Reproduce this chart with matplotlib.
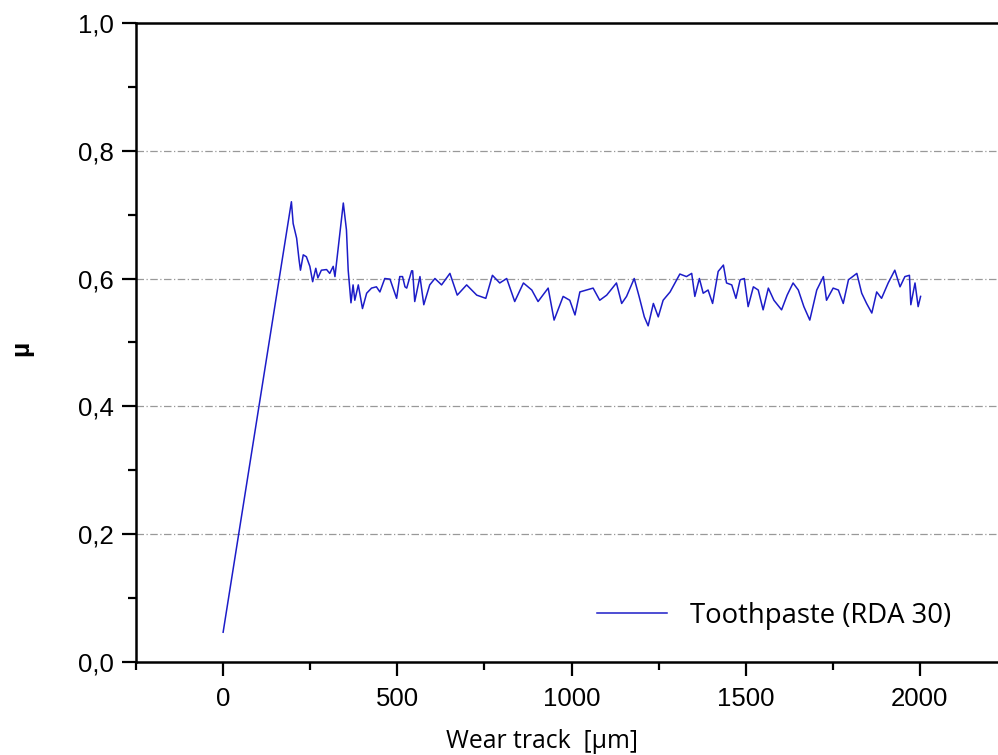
import matplotlib
matplotlib.use("Agg")
import matplotlib.pyplot as plt
from matplotlib.ticker import MultipleLocator, FuncFormatter

# values
wear_track = [
    0, 148, 196, 201, 211, 218, 222, 230, 239, 249, 257, 266, 272, 282, 297,
    306, 316, 321, 345, 354, 359, 367, 373, 378, 388, 400, 412, 426, 440, 450,
    464, 479, 498, 507, 515, 522, 527, 541, 544, 550, 565, 576, 593, 608, 627,
    651, 672, 699, 728, 754, 773, 794, 814, 837, 862, 886, 904, 933, 950, 976,
    995, 1010, 1024, 1043, 1062, 1081, 1101, 1129, 1144, 1158, 1180, 1194, 1209,
    1220, 1235, 1249, 1263, 1283, 1297, 1311, 1330, 1345, 1354, 1367, 1378, 1392,
    1405, 1421, 1436, 1445, 1460, 1472, 1484, 1496, 1507, 1522, 1536, 1550, 1565,
    1581, 1603, 1619, 1636, 1651, 1667, 1684, 1704, 1723, 1732, 1751, 1766, 1780,
    1795, 1819, 1833, 1847, 1862, 1876, 1890, 1909, 1928, 1943, 1957, 1970, 1974,
    1986, 1995, 2002,
]
mu = [
    0.047, 0.555, 0.720, 0.686, 0.663, 0.629, 0.613, 0.637, 0.634, 0.619, 0.595,
    0.616, 0.601, 0.613, 0.614, 0.608, 0.619, 0.603, 0.718, 0.676, 0.613, 0.562,
    0.590, 0.566, 0.590, 0.553, 0.577, 0.585, 0.587, 0.579, 0.600, 0.599, 0.569,
    0.603, 0.603, 0.587, 0.585, 0.612, 0.612, 0.564, 0.603, 0.559, 0.590, 0.600,
    0.590, 0.608, 0.574, 0.590, 0.574, 0.569, 0.605, 0.593, 0.600, 0.564, 0.593,
    0.582, 0.564, 0.585, 0.535, 0.572, 0.566, 0.543, 0.579, 0.582, 0.585, 0.566,
    0.574, 0.593, 0.561, 0.572, 0.600, 0.572, 0.540, 0.526, 0.561, 0.540, 0.566,
    0.579, 0.593, 0.607, 0.603, 0.608, 0.572, 0.600, 0.577, 0.582, 0.561, 0.611,
    0.621, 0.593, 0.590, 0.569, 0.598, 0.600, 0.556, 0.587, 0.582, 0.551, 0.585,
    0.566, 0.551, 0.574, 0.593, 0.582, 0.556, 0.535, 0.582, 0.603, 0.566, 0.585,
    0.582, 0.561, 0.598, 0.608, 0.577, 0.561, 0.546, 0.579, 0.569, 0.593, 0.613,
    0.587, 0.603, 0.605, 0.559, 0.593, 0.556, 0.572,
]
series_label = "Toothpaste (RDA 30)"

tick_font = "Liberation Sans"
text_font = "Open Sans"

fig = plt.figure(figsize=(9.98, 7.55), dpi=100)
# axes run past the right edge, like the cropped original
ax = fig.add_axes([0.1363, 0.1228, 0.8727, 0.8472])

ax.plot(wear_track, mu, color="#1c1cc8", linewidth=1.1, label=series_label)

ax.set_xlim(-250, 2250)
ax.set_ylim(0, 1.0)
ax.xaxis.set_major_locator(MultipleLocator(500))
ax.xaxis.set_minor_locator(MultipleLocator(250))
ax.yaxis.set_major_locator(MultipleLocator(0.2))
ax.yaxis.set_minor_locator(MultipleLocator(0.1))
ax.yaxis.set_major_formatter(FuncFormatter(lambda v, p: f"{v:.1f}".replace(".", ",")))

for s in ["left", "bottom", "top"]:
    ax.spines[s].set_linewidth(1.8)
ax.spines["right"].set_visible(False)

ax.tick_params(which="major", direction="out", length=10, width=1.6,
               labelsize=18.5, pad=6)
ax.tick_params(axis="x", which="major", pad=8)
ax.tick_params(which="minor", direction="out", length=5.5, width=1.6)
for lab in ax.get_xticklabels() + ax.get_yticklabels():
    lab.set_fontfamily(tick_font)

for yv in [0.2, 0.4, 0.6, 0.8]:
    ax.axhline(yv, color="#999999", linewidth=0.9, linestyle=(0, (6, 2, 1, 2)), zorder=0)

ax.set_xlabel("Wear track  [µm]", fontfamily=text_font, fontsize=17.8)
ax.xaxis.set_label_coords(0.466, -0.105)
ax.set_ylabel("µ", fontfamily=tick_font, fontsize=19, fontweight="bold")
ax.yaxis.set_label_coords(-0.118, 0.49)

ax.legend(loc="center left", bbox_to_anchor=(0.529, 0.0724), frameon=False,
          borderpad=0, borderaxespad=0,
          handlelength=2.55, handletextpad=0.85,
          prop={"family": text_font, "size": 19.8})

fig.savefig("out.png", dpi=100)
